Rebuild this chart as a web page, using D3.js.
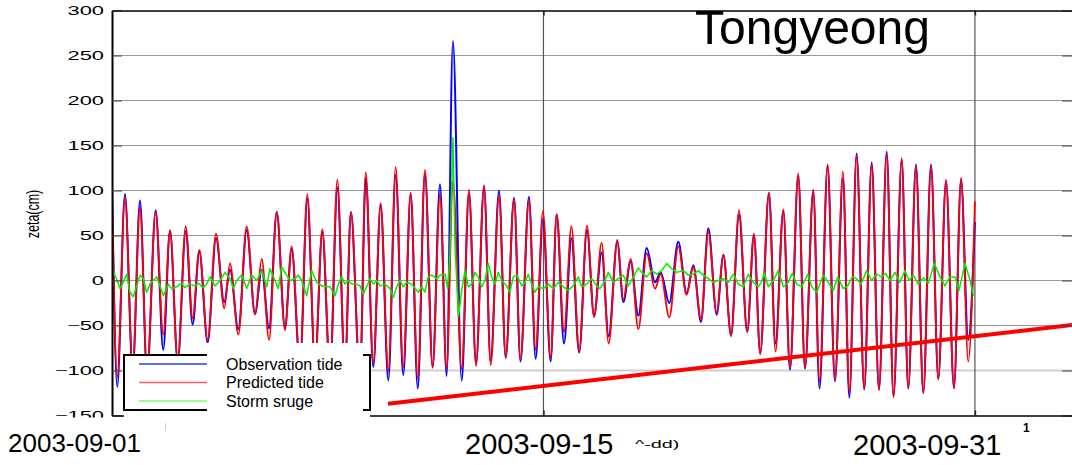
<!DOCTYPE html>
<html>
<head>
<meta charset="utf-8">
<script src="https://cdn.jsdelivr.net/npm/d3@7"></script>
<style>
  html, body { margin: 0; padding: 0; background: #fff; }
  svg { display: block; font-family: "Liberation Sans", Arial, Helvetica, sans-serif; }
</style>
</head>
<body>
<svg id="chart" width="1072" height="465"></svg>
<script>
// ---- Tongyeong tide record, September 2003 (hours since 2003-09-01 00:00) ----

// Times of successive high / low waters
const extremeHours = [
  0, 4.1, 10.1, 16.1, 21.8, 27.3, 34.0, 39.9, 45.2, 51.2,
  57.4, 62.8, 68.0, 74.5, 81.0, 87.4, 91.9, 98.4, 104.9, 111.4,
  116.6, 122.3, 128.3, 134.7, 139.9, 146.4, 152.1, 158.1, 163.8, 169.8,
  175.5, 181.4, 186.1, 193.1, 197.6, 203.5, 209.2, 215.2, 220.9, 226.8,
  232.6, 238.1, 243.7, 249.7, 255.4, 260.6, 265.5, 272.3, 278.0, 283.5,
  289.7, 294.9, 301.4, 306.6, 313.1, 318.1, 324.7, 329.9, 335.6, 341.6,
  346.3, 352.0, 357.8, 363.8, 369.9, 375.4, 381.3, 386.8, 393.5, 398.2,
  403.9, 409.9, 416.4, 422.9, 427.3, 434.0, 441.0, 447.5, 452.7, 458.7,
  464.4, 470.9, 476.1, 482.1, 488.3, 494.7, 499.9, 504.8, 511.6, 516.7,
  522.8, 528.0, 534.4, 539.7, 546.1, 551.0, 557.3, 563.0, 569.2, 574.2,
  579.9, 585.8, 591.6, 597.3, 603.3, 608.6, 615.0, 620.1, 626.1, 631.8,
  637.8, 643.5, 649.5, 655.7, 661.2, 666.8, 672.0
];

// Predicted tide at those times (cm)
const predictedTide = [
  95, -107, 92, -95, 81, -100, 76, -60, 56, -88,
  60, -42, 34, -66, 52, -31, 19, -60, 60, -38,
  24, -66, 76, -55, 38, -92, 96, -90, 57, -100,
  112, -96, 76, -104, 120, -92, 86, -101, 126, -96,
  98, -109, 123, -97, 96, -98, 110, -98, 101, -95,
  106, -94, 94, -85, 91, -88, 89, -77, 77, -86,
  74, -57, 60, -79, 61, -41, 42, -70, 45, -21,
  24, -54, 30, -9, 7, -41, 38, -16, 15, -43,
  54, -36, 29, -62, 78, -57, 52, -82, 98, -79,
  79, -97, 119, -97, 101, -112, 129, -110, 121, -124,
  139, -121, 129, -122, 140, -130, 136, -120, 127, -125,
  127, -110, 112, -120, 114, -90, 88
];

// Observed tide at those times (cm)
const observedTide = [
  108, -118, 96, -100, 89, -104, 78, -77, 55, -90,
  55, -49, 32, -69, 47, -24, 12, -54, 56, -37,
  12, -53, 76, -52, 35, -95, 91, -92, 54, -102,
  103, -98, 76, -106, 114, -96, 84, -111, 117, -105,
  95, -120, 119, -96, 107, -106, 266, -111, 97, -92,
  104, -89, 100, -86, 92, -90, 93, -87, 68, -90,
  73, -70, 47, -80, 56, -39, 31, -62, 43, -24,
  21, -39, 36, -2, 9, -25, 43, -14, 17, -46,
  58, -38, 28, -60, 73, -57, 50, -80, 97, -70,
  77, -99, 116, -98, 99, -120, 127, -112, 114, -130,
  141, -121, 131, -121, 143, -128, 134, -120, 129, -125,
  129, -109, 110, -119, 112, -66, 65
];

// Storm surge (observed minus predicted), sampled every few hours
const surgeHours = [
  0, 3.6, 6.2, 8.8, 11.4, 14.0, 16.6, 19.2, 21.8, 24.4,
  27.0, 29.6, 34.8, 37.4, 40.0, 43.9, 46.5, 50.4, 54.3, 56.8,
  60.7, 64.6, 67.2, 71.1, 73.7, 76.3, 80.2, 84.1, 88.0, 91.9,
  94.5, 97.1, 101.0, 104.9, 108.8, 112.7, 116.6, 120.5, 123.0, 126.9,
  129.5, 132.1, 136.0, 138.6, 142.5, 145.1, 147.7, 151.6, 155.5, 159.4,
  163.3, 167.2,
  169.8, 173.7, 176.3, 178.9, 181.4, 184.0, 186.7, 190.6, 193.1, 195.7,
  198.3, 200.9, 203.5, 206.1, 208.7, 212.6, 216.5, 219.1, 221.7, 224.3,
  226.8, 229.5, 233.4, 236.0, 238.5, 241.2, 243.7, 246.3, 249.0, 252.9,
  255.4, 259.3, 261.4, 263.2, 265.5, 267.1, 269.8,
  272.3, 274.9, 277.5, 280.1, 282.7, 285.2, 287.9, 290.5, 293.0, 295.7,
  298.3, 300.8, 303.5, 307.4, 309.9, 312.5, 315.2, 319.1, 321.6, 324.2,
  326.8, 329.4, 332.0, 335.9,
  339.8, 343.7, 347.6, 351.5, 355.3, 359.2, 363.1, 365.8, 369.7, 373.6,
  377.5, 380.0, 383.9, 386.5, 390.4, 394.3, 398.2, 402.1, 406.0, 409.9,
  412.5, 416.4, 420.3, 424.2, 428.1, 432.0, 435.9, 439.8, 444.9, 448.8,
  452.7, 456.6, 460.5, 464.4, 468.3, 472.2, 476.1, 480.0, 483.9, 487.7,
  491.6, 495.5, 499.4, 503.3,
  505.6, 508.0, 511.1, 515.0, 518.9, 522.8, 526.7, 529.8, 533.2, 537.1,
  541.8, 544.9, 548.8, 553.9, 557.8, 561.7, 565.1, 569.5, 572.9, 576.5,
  579.9, 583.3, 587.7, 591.6, 595.5, 599.4, 602.5, 605.8, 609.7, 613.6,
  617.5, 620.6, 624.0, 627.9, 631.8, 635.7, 640.4, 644.8, 648.7, 652.6,
  656.5, 659.6, 664.3, 668.2, 670.8, 672.0
];

const stormSurge = [
  13, 2, -9, -2, 7, -13, -18, -6, 6, 2,
  -13, -4, 4, -6, -17, -4, -9, -7, -3, -8,
  -4, -6, -3, -8, -4, 4, -6, 0, 9, 2,
  -9, 0, 6, -9, 6, 0, 11, -7, 13, 0,
  -9, 15, 6, 0, 2, 6, 0, -17, 11, -2,
  -6, -7,
  -7, -17, -4, 4, -4, 0, -4, -4, -6, -15,
  -7, 2, -4, 0, -6, -4, -9, -19, -7, 0,
  -7, -2, -4, -9, -13, -7, -13, 4, 6, 2,
  6, 7, -9, 30, 159, 40, -40,
  -11, 11, -7, -4, 9, 4, -7, 0, 19, 4,
  -4, 9, 0, -6, -13, 4, 6, -6, -2, 7,
  -4, -13, -7, -9,
  -4, -9, -2, -7, -11, -6, 4, -7, -4, 2,
  -6, -9, 0, 9, -2, 2, 6, -6, 4, 14,
  9, 4, 11, 7, 11, 19, 13, 9, 11, 6,
  7, 11, 6, 2, -2, 0, 2, -2, 7, -4,
  -7, 7, -2, -7,
  -2, 8, -7, 0, 11, -7, -2, 8, -4, -7,
  7, -7, -13, 6, -2, -11, 4, -9, -6, 4,
  2, -4, 11, 0, 7, 4, 8, 0, 9, -2,
  11, 0, 6, -4, 3, -3, 19, 4, -6, 4,
  4, -11, 19, 0, -16, -17
];

// Straight red reference line (start / end)
const trendHours = [215, 747.6];
const trendValues = [-137, -49.4];

const yTicks = [-150, -100, -50, 0, 50, 100, 150, 200, 250, 300];
const xGridHours = [336, 672];
const xDomain = [0, 747.6];
const yDomain = [-150, 300];

const dateLabels = ["2003-09-01", "2003-09-15", "2003-09-31"];
const seriesNames = ["Observation tide", "Predicted tide", "Storm sruge"];
const titleText = "Tongyeong";
const yTitle = "zeta(cm)";

// ---- layout ----
const plot = { left: 112, right: 1072, top: 10.5, bottom: 415.5 };
const colors = { obs: "#0000ff", pred: "#ff0000", surge: "#00ee00" };
const labelStretch = 1.75;

const svg = d3.select("#chart");
const x = d3.scaleLinear().domain(xDomain).range([plot.left, plot.right]);
const y = d3.scaleLinear().domain(yDomain).range([plot.bottom, plot.top]);

svg.append("defs").append("clipPath").attr("id", "plotClip")
  .append("rect")
  .attr("x", plot.left).attr("y", plot.top)
  .attr("width", plot.right - plot.left).attr("height", plot.bottom - plot.top);

// horizontal grid
svg.append("g").selectAll("line")
  .data(yTicks.filter(v => v > yDomain[0] && v < yDomain[1]))
  .join("line")
  .attr("x1", plot.left).attr("x2", plot.right)
  .attr("y1", d => y(d)).attr("y2", d => y(d))
  .attr("stroke", d => d === -100 ? "#cfcfcf" : "#9a9a9a")
  .attr("stroke-width", d => d === -100 ? 2 : 1);

// vertical grid
svg.append("g").selectAll("line")
  .data(xGridHours)
  .join("line")
  .attr("x1", d => x(d)).attr("x2", d => x(d))
  .attr("y1", plot.top).attr("y2", plot.bottom)
  .attr("stroke", "#555").attr("stroke-width", 1.2);

// series
const tidePoints = (vals) => extremeHours.map((h, i) => [h, vals[i]]);
const smooth = d3.line().x(d => x(d[0])).y(d => y(d[1])).curve(d3.curveMonotoneX);
const jagged = d3.line().x(d => x(d[0])).y(d => y(d[1]));

const series = svg.append("g").attr("clip-path", "url(#plotClip)");
series.append("path").attr("d", smooth(tidePoints(observedTide)))
  .attr("fill", "none").attr("stroke", colors.obs).attr("stroke-width", 2)
  .attr("stroke-linejoin", "round");
series.append("path").attr("d", smooth(tidePoints(predictedTide)))
  .attr("fill", "none").attr("stroke", colors.pred).attr("stroke-width", 1.8)
  .attr("stroke-linejoin", "round");
series.append("path").attr("d", jagged(surgeHours.map((h, i) => [h, stormSurge[i]])))
  .attr("fill", "none").attr("stroke", colors.surge).attr("stroke-width", 1.5)
  .attr("stroke-linejoin", "round");
series.append("path").attr("d", jagged(trendHours.map((h, i) => [h, trendValues[i]])))
  .attr("fill", "none").attr("stroke", "#ff0000").attr("stroke-width", 4);

// left axis with stretched labels
const gy = svg.append("g").attr("transform", `translate(${plot.left},0)`)
  .call(d3.axisLeft(y).tickValues(yTicks).tickSizeInner(-10).tickSizeOuter(0).tickPadding(0))
  .attr("font-family", null).attr("font-size", null);
gy.select(".domain").attr("stroke", "#000").attr("stroke-width", 2);
gy.selectAll(".tick line").attr("stroke", "#444");
gy.selectAll(".tick text")
  .attr("x", -8 / labelStretch)
  .attr("transform", `scale(${labelStretch},1)`)
  .attr("font-size", 12.5).attr("fill", "#000");

// right ticks
const gr = svg.append("g").attr("transform", `translate(${plot.right},0)`)
  .call(d3.axisRight(y).tickValues(yTicks).tickSizeInner(-10).tickSizeOuter(0).tickFormat(""));
gr.select(".domain").remove();
gr.selectAll(".tick line").attr("stroke", "#444");

// top frame and bottom axis
const gt = svg.append("g").attr("transform", `translate(0,${plot.top})`)
  .call(d3.axisTop(x).tickValues(xGridHours).tickSizeInner(-5).tickSizeOuter(0).tickFormat(""));
gt.select(".domain").attr("stroke", "#000").attr("stroke-width", 1.5);
gt.selectAll(".tick line").attr("stroke", "#222").attr("stroke-width", 1.5);

const gb = svg.append("g").attr("transform", `translate(0,${plot.bottom})`)
  .call(d3.axisBottom(x).tickValues(xGridHours).tickSizeInner(-5).tickSizeOuter(0).tickFormat(""));
gb.select(".domain").attr("stroke", "#000").attr("stroke-width", 1.5);
gb.selectAll(".tick line").attr("stroke", "#222").attr("stroke-width", 1.5);

// y title
svg.append("text")
  .attr("transform", "translate(39,214) scale(1.4,1) rotate(-90)")
  .attr("text-anchor", "middle")
  .attr("font-size", 12.5).attr("fill", "#000")
  .text(yTitle);

// chart title
svg.append("text")
  .attr("x", 695).attr("y", 43.5)
  .attr("font-size", 48).attr("fill", "#000")
  .attr("textLength", 235).attr("lengthAdjust", "spacingAndGlyphs")
  .text(titleText);

// legend
const legend = svg.append("g");
legend.append("rect").attr("x", 124).attr("y", 355).attr("width", 246).attr("height", 63).attr("fill", "#fff");
legend.append("rect").attr("x", 207).attr("y", 343).attr("width", 156).attr("height", 75).attr("fill", "#fff");
const frame = d3.path();
frame.moveTo(207, 355); frame.lineTo(124, 355); frame.lineTo(124, 410); frame.lineTo(207, 410);
frame.moveTo(363, 355); frame.lineTo(370, 355); frame.lineTo(370, 410); frame.lineTo(363, 410);
legend.append("path").attr("d", frame.toString()).attr("fill", "none")
  .attr("stroke", "#000").attr("stroke-width", 2);
const legendColors = ["#2a3cff", "#ff5a5a", "#70ff70"];
const legendRows = legend.selectAll("g.row").data(seriesNames).join("g")
  .attr("class", "row")
  .attr("transform", (d, i) => `translate(0,${364 + i * 18.5})`);
legendRows.append("line")
  .attr("x1", 139).attr("x2", 207).attr("y1", 0).attr("y2", 0)
  .attr("stroke", (d, i) => legendColors[i]).attr("stroke-width", 1.4);
legendRows.append("text")
  .attr("x", 226).attr("y", 5.5)
  .attr("font-size", 16).attr("fill", "#000")
  .text(d => d);

// white band below the frame, then the date captions
svg.append("rect").attr("x", 0).attr("y", 417.5).attr("width", 1072).attr("height", 48).attr("fill", "#fff");
svg.append("line").attr("x1", 165.5).attr("x2", 165.5).attr("y1", 423).attr("y2", 431)
  .attr("stroke", "#d0d0d0").attr("stroke-width", 1);

const captionStyle = [
  { x: 8, y: 452, size: 26 },
  { x: 465, y: 454, size: 29 },
  { x: 853, y: 455, size: 29 }
];
svg.append("g").selectAll("text").data(dateLabels).join("text")
  .attr("x", (d, i) => captionStyle[i].x)
  .attr("y", (d, i) => captionStyle[i].y)
  .attr("font-size", (d, i) => captionStyle[i].size)
  .attr("fill", "#000")
  .text(d => d);

svg.append("text")
  .attr("transform", "translate(635,448) scale(1.8,1)")
  .attr("font-size", 11).attr("fill", "#000")
  .text("^-dd)");

svg.append("text")
  .attr("x", 1023).attr("y", 432)
  .attr("font-size", 12).attr("font-weight", "bold").attr("fill", "#000")
  .text("1");
</script>
</body>
</html>
